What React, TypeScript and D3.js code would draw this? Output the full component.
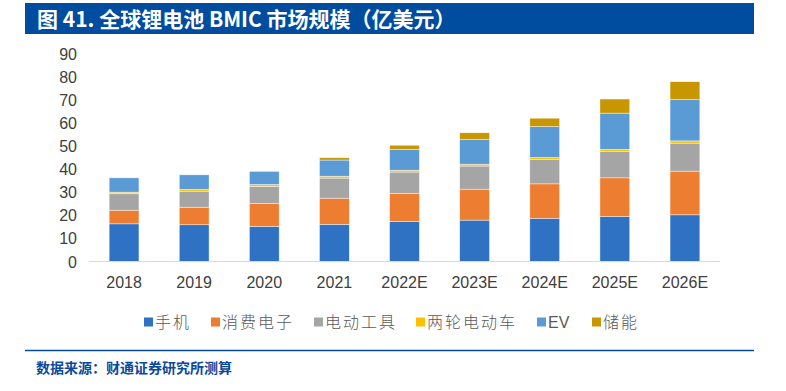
import React from 'react';
import * as d3 from 'd3';

const years = ['2018', '2019', '2020', '2021', '2022E', '2023E', '2024E', '2025E', '2026E'];
const seriesNames = ['手机', '消费电子', '电动工具', '两轮电动车', 'EV', '储能'];
const phone = [16.3, 15.9, 15.2, 16.1, 17.3, 17.9, 18.7, 19.5, 20.2];
const consumer = [5.9, 7.6, 9.9, 11.3, 12.1, 13.4, 14.9, 16.7, 18.9];
const powerTool = [7.1, 6.9, 7.4, 8.7, 9.3, 10.0, 10.6, 11.4, 12.1];
const twoWheel = [0.7, 0.8, 0.8, 0.8, 0.8, 0.8, 0.8, 0.9, 1.0];
const ev = [6.2, 6.3, 5.7, 7.0, 9.0, 10.8, 13.4, 15.7, 17.9];
const storage = [0, 0, 0, 1.0, 1.8, 2.8, 3.6, 6.1, 7.7];
const yTicks = [0, 10, 20, 30, 40, 50, 60, 70, 80, 90];

const colors = ['#2F72C4', '#ED7D31', '#A5A5A5', '#FFC000', '#5B9BD5', '#C89600'];

const W = 786;
const H = 391;
const x0 = 89, x1 = 720;
const yBase = 261.5, yTop = 53.5;

export default function App() {
  const table = years.map((y, i) => ({
    year: y,
    s0: phone[i], s1: consumer[i], s2: powerTool[i], s3: twoWheel[i], s4: ev[i], s5: storage[i],
  }));
  const keys = ['s0', 's1', 's2', 's3', 's4', 's5'];
  const stacked = d3.stack<any>().keys(keys)(table);

  const x = d3.scaleBand().domain(years).range([x0, x1]).paddingInner(0.575).paddingOuter(0.2875);
  const y = d3.scaleLinear().domain([0, 90]).range([yBase, yTop]);

  const legendX = [144, 211, 314, 416, 537, 592];

  return (
    <svg width={W} height={H} style={{ position: 'absolute', left: 0, top: 0 }}
      fontFamily="'Liberation Sans', Arial, sans-serif">
      <rect x={0} y={0} width={W} height={H} fill="#fff" />
      {/* title bar */}
      <rect x={25} y={3} width={729} height={31} fill="#004C9E" />
      <text x={37} y={27} fill="#fff" fontSize={21} fontWeight="bold"
        fontFamily="'Noto Sans CJK SC', sans-serif">图 41. 全球锂电池 BMIC 市场规模（亿美元）</text>

      {/* y ticks */}
      {yTicks.map(t => (
        <text key={t} x={77} y={y(t) + 6} textAnchor="end" fontSize={16} fill="#404040">{t}</text>
      ))}

      {/* bars */}
      {stacked.map((layer, li) => (
        <g key={li} fill={colors[li]}>
          {layer.map((d, i) => {
            const h = y(d[0]) - y(d[1]);
            if (h <= 0) return null;
            return (
              <rect key={i} x={x(years[i])} y={y(d[1])} width={x.bandwidth()} height={h}
                stroke="#fff" strokeWidth={0.6} strokeOpacity={0.7} />
            );
          })}
        </g>
      ))}

      {/* x axis */}
      <line x1={x0} x2={x1} y1={yBase} y2={yBase} stroke="#D9D9D9" strokeWidth={1.2} />
      {years.map(yr => (
        <text key={yr} x={(x(yr) as number) + x.bandwidth() / 2} y={288} textAnchor="middle"
          fontSize={16} fill="#404040">{yr}</text>
      ))}

      {/* legend */}
      {seriesNames.map((n, i) => (
        <g key={n}>
          <rect x={legendX[i]} y={317.5} width={9} height={9} fill={colors[i]} />
          <text x={legendX[i] + 11} y={328} fontSize={16} fill="#595959"
            fontFamily={n === 'EV' ? "'Liberation Sans', sans-serif" : "'Noto Sans CJK SC', sans-serif"}
            fontWeight={300} letterSpacing={n === 'EV' ? 0 : 2}>{n}</text>
        </g>
      ))}

      {/* footer */}
      <line x1={25} x2={754} y1={350.5} y2={350.5} stroke="#004C9E" strokeWidth={1.5} />
      <text x={36} y={373} fontSize={14} fontWeight="bold" fill="#0B4A9A"
        fontFamily="'Noto Sans CJK SC', sans-serif">数据来源：财通证券研究所测算</text>
    </svg>
  );
}
